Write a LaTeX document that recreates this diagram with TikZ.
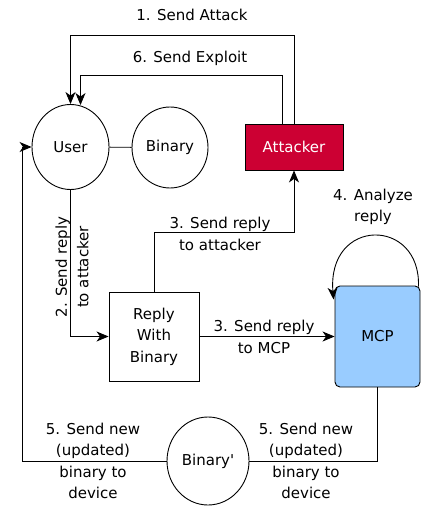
\documentclass[tikz,border=0pt]{standalone}
\usepackage{fontspec}
\setmainfont{DejaVu Sans}
\usetikzlibrary{arrows.meta,shapes.geometric,positioning}

\definecolor{attackred}{RGB}{204,0,51}
\definecolor{mcpblue}{RGB}{153,204,255}

\begin{document}
\begin{tikzpicture}[
x=1pt, y=-1pt,
font=\fontsize{15}{21.5}\selectfont,
line width=0.9pt,
arr/.style={-{Stealth[length=12pt,width=10pt,inset=3.5pt]}},
dev/.style={draw=black, ellipse, inner sep=0pt},
box/.style={draw=black, rectangle, inner sep=0pt, align=center},
lbl/.style={align=center, inner sep=0pt},
]
\useasboundingbox (0,0) rectangle (421,510);

\node[dev, minimum width=77pt, minimum height=85pt] (user) at (70.5,147) {User};
\node[dev, minimum width=76pt, minimum height=81pt] (binary) at (170,147.5) {Binary};
\node[box, fill=attackred, text=white, minimum width=98pt, minimum height=46pt] (attacker) at (294,147) {Attacker};
\node[box, minimum width=90pt, minimum height=89pt] (reply) at (154,336.5) {Reply\\With\\Binary};
\node[box, fill=mcpblue, rounded corners=5pt, minimum width=85pt, minimum height=101pt] (mcp) at (377.5,336.5) {MCP};
\node[dev, minimum width=82pt, minimum height=88pt] (binaryp) at (208,461) {Binary\textquotesingle};

\node[lbl] (send1) at (192,15) {1. Send Attack};
\node[lbl] (send6) at (190,58) {6. Send Exploit};
\node[lbl, rotate=90] (send2) at (72,267) {2. Send reply\\to attacker};
\node[lbl] (send3a) at (220,234) {3. Send reply\\to attacker};
\node[lbl] (send3b) at (264,337) {3. Send reply\\to MCP};
\node[lbl] (analyze) at (373,207) {4. Analyze\\reply};
\node[lbl] (send5a) at (93,461) {5. Send new\\(updated)\\binary to\\device};
\node[lbl] (send5b) at (306,461) {5. Send new\\(updated)\\binary to\\device};

\draw[arr] (attacker.north) -- ++(0,-88) -| (user.north);
\draw[arr] ([xshift=-12pt]attacker.north) -- ++(0,-48) -| ([xshift=10pt,yshift=-1pt]user.north);
\draw (user) -- (binary);
\draw[arr] (user.south) |- (reply.west);
\draw[arr] (reply.north) -- ++(0,-59) -| (attacker.south);
\draw[arr] (reply.east) -- (mcp.west);
\draw[arr] ([xshift=-2pt,yshift=-1pt]mcp.north east) .. controls (421,217) and (327,217) .. ([xshift=-1pt,yshift=-14pt]mcp.north west);
\draw (mcp.south) |- (binaryp.east);
\draw[arr] (binaryp.west) -- ++(-144,0) |- (user.west);

\end{tikzpicture}
\end{document}
